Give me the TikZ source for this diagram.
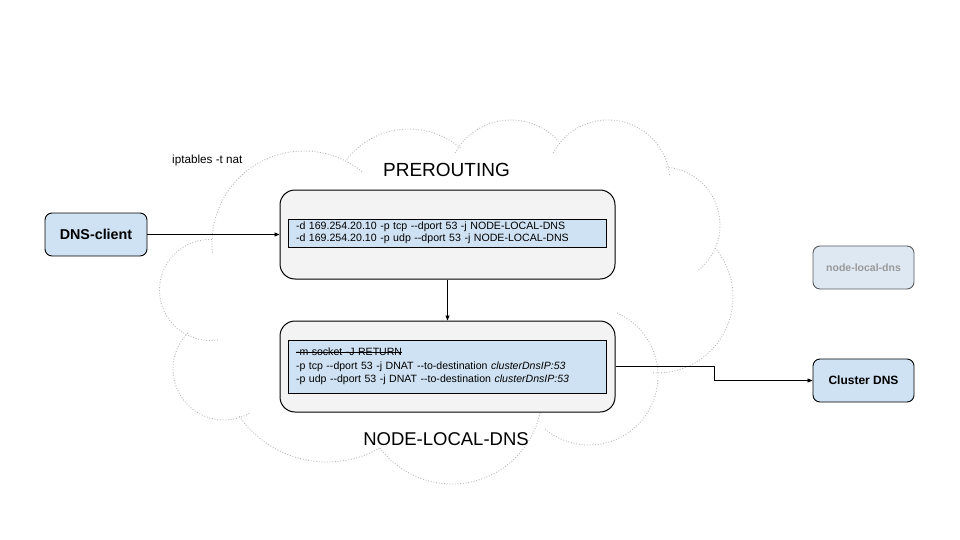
\documentclass[tikz,border=0pt]{standalone}
\usepackage{fontspec}
\setmainfont{Liberation Sans}
\usetikzlibrary{arrows.meta}
\definecolor{lblue}{HTML}{CFE2F3}
\definecolor{lgray}{HTML}{F3F3F3}
\definecolor{cloudc}{HTML}{B7B7B7}
\definecolor{fadeblue}{HTML}{DDE8F3}
\definecolor{fadetext}{HTML}{999999}
\definecolor{fadeline}{HTML}{595959}
\newsavebox\strkbox
\newcommand\strkout[1]{\sbox\strkbox{#1}\rlap{\usebox\strkbox}\rule[0.3em]{\wd\strkbox}{0.6pt}}
\begin{document}
\begin{tikzpicture}[x=1pt,y=1pt,
  cloudline/.style={draw=cloudc, line width=0.9pt, dash pattern=on 0.9pt off 1.8pt},
  bluebox/.style={draw=black, fill=lblue, rounded corners=7pt, line width=0.9pt, inner sep=0pt, font=\bfseries},
  chainbox/.style={draw=black, fill=lgray, rounded corners=15pt, line width=1pt, inner sep=0pt, minimum width=335pt},
  rulebox/.style={draw=black, fill=lblue, line width=0.8pt, inner ysep=0pt, inner xsep=8pt, align=left, text width=302pt},
  arr/.style={-{Triangle[length=5pt,width=4pt]}, line width=0.8pt},
  title/.style={font=\fontsize{19}{22}\selectfont, inner sep=0pt, anchor=base}]
\useasboundingbox (0,0) rectangle (960,-540);

% cloud
\draw[cloudline] ([shift={(186:92pt)}]304,-243) arc[start angle=186, end angle=50, radius=92pt];
\draw[cloudline] ([shift={(142:79pt)}]409,-208) arc[start angle=142, end angle=48, radius=79pt];
\draw[cloudline] ([shift={(151:64pt)}]511,-184) arc[start angle=151, end angle=42, radius=64pt];
\draw[cloudline] ([shift={(152:62pt)}]608,-182) arc[start angle=152, end angle=5, radius=62pt];
\draw[cloudline] ([shift={(86:58pt)}]662,-225) arc[start angle=86, end angle=-53, radius=58pt];
\draw[cloudline] ([shift={(40:76pt)}]657,-297) arc[start angle=40, end angle=-93, radius=76pt];
\draw[cloudline] ([shift={(66:69pt)}]589,-376) arc[start angle=66, end angle=-131, radius=69pt];
\draw[cloudline] ([shift={(-12:90pt)}]452,-394) arc[start angle=-12, end angle=-144, radius=90pt];
\draw[cloudline] ([shift={(215:107pt)}]327,-355) arc[start angle=215, end angle=300, radius=107pt];
\draw[cloudline] ([shift={(135:51pt)}]224,-369) arc[start angle=135, end angle=301, radius=51pt];
\draw[cloudline] ([shift={(88:50.5pt)}]210,-290) arc[start angle=88, end angle=281, radius=50.5pt];

% labels
\node[inner sep=0pt, anchor=base west, font=\fontsize{11.7}{13}\selectfont] (iptl) at (172,-164) {iptables -t nat};
\node[title] (pretitle) at (446.5,-176) {PREROUTING};
\node[title, font=\fontsize{18.5}{22}\selectfont] (nldtitle) at (446,-445) {NODE-LOCAL-DNS};

% boxes
\node[bluebox, minimum width=102pt, minimum height=43pt, font=\bfseries\fontsize{14.3}{16}\selectfont] (client) at (96,-234.5) {DNS-client};
\node[chainbox, minimum height=89pt] (pre) at (447.5,-234.5) {};
\node[rulebox, minimum height=28pt, font=\fontsize{10.6}{11.7}\selectfont] (prerules) at (447,-233) {-d 169.254.20.10 -p tcp -{}-dport 53 -j NODE-LOCAL-DNS\\-d 169.254.20.10 -p udp -{}-dport 53 -j NODE-LOCAL-DNS};
\node[chainbox, minimum height=91pt] (nld) at (447.5,-366.5) {};
\node[rulebox, minimum height=53pt, font=\fontsize{10.55}{13.3}\selectfont] (nldrules) at (447,-366.5) {\strkout{-m socket -J RETURN}\\-p tcp -{}-dport 53 -j DNAT -{}-to-destination \textit{clusterDnsIP:53}\\-p udp -{}-dport 53 -j DNAT -{}-to-destination \textit{clusterDnsIP:53}};
\node[bluebox, minimum width=101pt, minimum height=43pt, font=\bfseries\fontsize{12}{14}\selectfont] (cluster) at (863.5,-380.5) {Cluster DNS};
\node[bluebox, draw=fadeline, fill=fadeblue, text=fadetext, minimum width=101pt, minimum height=43pt, font=\bfseries\fontsize{10.5}{12}\selectfont] (nlddns) at (863.5,-267.5) {node-local-dns};

% connectors
\coordinate (elbow) at (714,-366.5);
\draw[arr] (client.east) -- (pre.west);
\draw[arr] (pre.south) -- (nld.north);
\draw[arr] (nld.east) -- (elbow) |- (cluster.west);
\end{tikzpicture}
\end{document}
